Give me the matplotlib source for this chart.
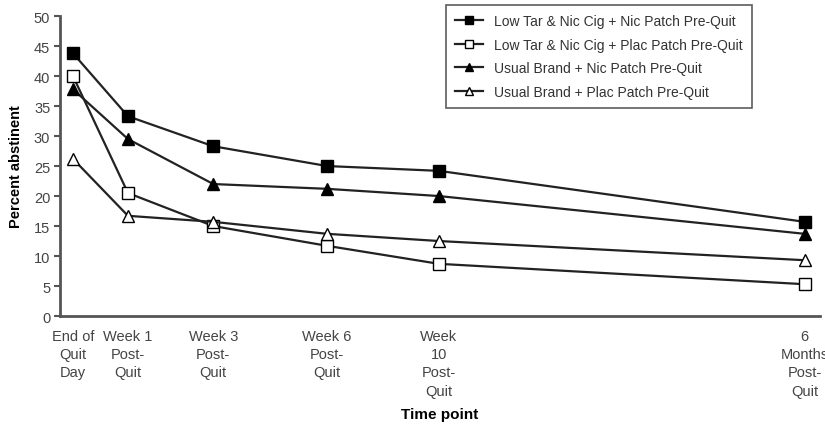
import matplotlib.pyplot as plt

plt.rcParams['font.family'] = ['Liberation Sans', 'DejaVu Sans']

# time points, positioned as in the original (uneven spacing)
time_labels = ["End of\nQuit\nDay", "Week 1\nPost-\nQuit", "Week 3\nPost-\nQuit",
               "Week 6\nPost-\nQuit", "Week\n10\nPost-\nQuit", "6\nMonths\nPost-\nQuit"]
time_pos = [0, 1, 2.55, 4.62, 6.65, 13.3]

low_nic = [43.8, 33.3, 28.3, 25.0, 24.2, 15.7]
low_plac = [40.0, 20.5, 15.0, 11.7, 8.7, 5.3]
usual_nic = [37.8, 29.5, 22.0, 21.2, 20.0, 13.7]
usual_plac = [26.2, 16.7, 15.7, 13.7, 12.5, 9.3]

series = [
    ("Low Tar & Nic Cig + Nic Patch Pre-Quit", low_nic, "s", "black"),
    ("Low Tar & Nic Cig + Plac Patch Pre-Quit", low_plac, "s", "white"),
    ("Usual Brand + Nic Patch Pre-Quit", usual_nic, "^", "black"),
    ("Usual Brand + Plac Patch Pre-Quit", usual_plac, "^", "white"),
]

fig = plt.figure(figsize=(8.25, 4.27), dpi=100)
ax = fig.add_axes([0.0727, 0.2576, 0.9213, 0.7024])

for name, vals, mk, fc in series:
    ax.plot(time_pos, vals, color="#222222", linewidth=1.6, marker=mk, markersize=8,
            markerfacecolor=fc, markeredgecolor="black", markeredgewidth=1.0, label=name)

ax.set_xlim(-0.236, 13.58)
ax.set_ylim(0, 50)
ax.set_yticks(range(0, 51, 5))
ax.set_xticks(time_pos)
ax.set_xticklabels(time_labels, fontsize=10.5, color="#444444", linespacing=1.4, va="top")
ax.tick_params(axis="x", length=0, pad=9)
ax.tick_params(axis="y", length=4, width=1.5, color="#555555", labelsize=10.5,
               labelcolor="#444444", pad=3)

for s in ["top", "right"]:
    ax.spines[s].set_visible(False)
for s in ["left", "bottom"]:
    ax.spines[s].set_color("#555555")
    ax.spines[s].set_linewidth(2)

ax.set_ylabel("Percent abstinent", fontsize=10.5, fontweight="bold", labelpad=8)
ax.set_xlabel("Time point", fontsize=11, fontweight="bold", labelpad=7)

leg = ax.legend(loc="upper left", bbox_to_anchor=(0.508, 1.036), fontsize=10,
                frameon=True, fancybox=False, edgecolor="#333333", handlelength=2.0,
                markerscale=0.65, labelspacing=0.68, borderpad=0.65, handletextpad=0.8,
                borderaxespad=0)
leg.get_frame().set_linewidth(1.2)
for t in leg.get_texts():
    t.set_color("#333333")

fig.savefig("out.png", dpi=100)
